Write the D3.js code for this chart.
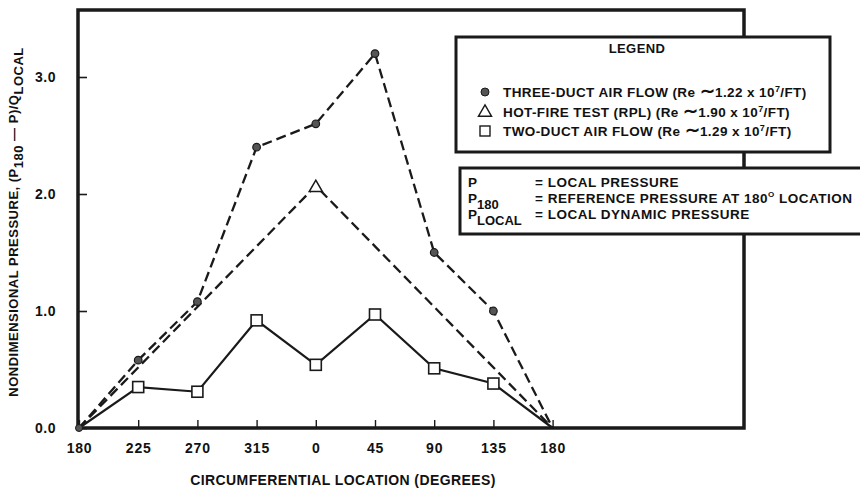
<!DOCTYPE html>
<html><head><meta charset="utf-8">
<script src="https://cdn.jsdelivr.net/npm/d3@7"></script>
<style>
body{margin:0;background:#fff;}
text{font-family:"Liberation Sans",Arial,sans-serif;font-weight:bold;fill:#111;}
</style></head>
<body><svg id="c" width="860" height="488"></svg>
<script>
const xLabels = ["180","225","270","315","0","45","90","135","180"];
const threeDuct = [0.0, 0.58, 1.08, 2.40, 2.60, 3.20, 1.50, 1.00, 0.0];
const twoDuct   = [0.0, 0.35, 0.31, 0.92, 0.54, 0.97, 0.51, 0.38, 0.0];
const hotFireIdx = [0, 4, 8];
const hotFireVal = [0.0, 2.07, 0.0];
const yTicks = [0, 1, 2, 3];
const legendItems = [
  {sym:"circle", name:"THREE-DUCT AIR FLOW (Re ", re:"1.22"},
  {sym:"triangle", name:"HOT-FIRE TEST (RPL) (Re ", re:"1.90"},
  {sym:"square", name:"TWO-DUCT AIR FLOW (Re ", re:"1.29"}
];
const defs = [
  {sym:"P", sub:"", desc:"= LOCAL PRESSURE"},
  {sym:"P", sub:"180", desc:"= REFERENCE PRESSURE AT 180", sup:"O", tail:" LOCATION"},
  {sym:"P", sub:"LOCAL", desc:"= LOCAL DYNAMIC PRESSURE"}
];

const svg = d3.select("#c");
const x = d3.scaleLinear().domain([0, 8]).range([79, 552.6]);
const y = d3.scaleLinear().domain([0, 3]).range([428, 77]);
const ink = "#1a1a1a";

// frame
svg.append("path").attr("d","M78,428 L78,10 L744,10 L744,428 Z")
  .attr("fill","none").attr("stroke",ink).attr("stroke-width",3.5);

// axes
const yAxis = d3.axisLeft(y).tickValues(yTicks).tickFormat(d3.format(".1f")).tickSize(-9).tickPadding(22);
const gy = svg.append("g").attr("transform","translate(78,0)").call(yAxis);
gy.select(".domain").remove();
gy.selectAll("line").attr("stroke",ink).attr("stroke-width",1.6);
gy.selectAll("text").attr("font-size",14).attr("font-family","Liberation Sans, Arial").attr("font-weight","bold").attr("letter-spacing",0.5);

const xAxis = d3.axisBottom(x).tickValues(d3.range(9)).tickFormat(i => xLabels[i]).tickSize(-8).tickPadding(15);
const gx = svg.append("g").attr("transform","translate(0,428)").call(xAxis);
gx.select(".domain").remove();
gx.selectAll("line").attr("stroke",ink).attr("stroke-width",1.4);
gx.selectAll("text").attr("font-size",14).attr("font-family","Liberation Sans, Arial").attr("font-weight","bold").attr("letter-spacing",0.8);

// lines
const line = d3.line().x(d => x(d[0])).y(d => y(d[1]));
const threePts = threeDuct.map((v,i)=>[i,v]);
const twoPts = twoDuct.map((v,i)=>[i,v]);
const hotPts = hotFireIdx.map((i,k)=>[i,hotFireVal[k]]);

svg.append("path").attr("d",line(hotPts)).attr("fill","none").attr("stroke",ink)
  .attr("stroke-width",2.3).attr("stroke-dasharray","10,5");
svg.append("path").attr("d",line(threePts)).attr("fill","none").attr("stroke",ink)
  .attr("stroke-width",2.3).attr("stroke-dasharray","10,5");
svg.append("path").attr("d",line(twoPts)).attr("fill","none").attr("stroke",ink)
  .attr("stroke-width",2.2);

// markers
svg.selectAll(".c3").data(threePts.slice(1,8)).enter().append("circle")
  .attr("cx",d=>x(d[0])).attr("cy",d=>y(d[1])).attr("r",3.8)
  .attr("fill","#555").attr("stroke",ink).attr("stroke-width",1.2);
svg.selectAll(".sq").data(twoPts.slice(1,8)).enter().append("rect")
  .attr("x",d=>x(d[0])-5.5).attr("y",d=>y(d[1])-5.5).attr("width",11).attr("height",11)
  .attr("fill","#fff").attr("stroke",ink).attr("stroke-width",1.6);
const tri = d3.symbol().type(d3.symbolTriangle).size(75);
svg.selectAll(".tr").data(hotPts.slice(1,2)).enter().append("path")
  .attr("d",tri).attr("transform",d=>`translate(${x(d[0])},${y(d[1])+2})`)
  .attr("fill","#fff").attr("stroke",ink).attr("stroke-width",1.5);
svg.append("circle").attr("cx",x(0)).attr("cy",y(0)).attr("r",3.5).attr("fill","#555").attr("stroke",ink);

// legend box
const lg = svg.append("g");
lg.append("rect").attr("x",456).attr("y",37).attr("width",374).attr("height",115)
  .attr("fill","#fff").attr("stroke",ink).attr("stroke-width",3);
lg.append("text").attr("x",637).attr("y",53).attr("text-anchor","middle").attr("font-size",13).attr("letter-spacing",0.4).text("LEGEND");
legendItems.forEach((it,i)=>{
  const yy = 97 + i*19.5;
  if(it.sym==="circle") lg.append("circle").attr("cx",485).attr("cy",yy-5).attr("r",4).attr("fill","#555").attr("stroke",ink);
  if(it.sym==="triangle") lg.append("path").attr("d",d3.symbol().type(d3.symbolTriangle).size(75)).attr("transform",`translate(485,${yy-4})`).attr("fill","none").attr("stroke",ink).attr("stroke-width",1.4);
  if(it.sym==="square") lg.append("rect").attr("x",480).attr("y",yy-10).attr("width",10).attr("height",10).attr("fill","none").attr("stroke",ink).attr("stroke-width",1.4);
  const t = lg.append("text").attr("x",503).attr("y",yy).attr("font-size",13.5).attr("letter-spacing",0.4);
  t.append("tspan").text(it.name);
  t.append("tspan").attr("font-size",18).attr("dy",0).text("∼");
  t.append("tspan").text(it.re + " x 10");
  t.append("tspan").attr("font-size",9).attr("dy",-5).text("7");
  t.append("tspan").attr("dy",5).text("/FT)");
});

// definitions box
const dg = svg.append("g");
dg.append("rect").attr("x",460).attr("y",168).attr("width",420).attr("height",66)
  .attr("fill","#fff").attr("stroke",ink).attr("stroke-width",3);
defs.forEach((d,i)=>{
  const yy = 187 + i*16;
  const t = dg.append("text").attr("x",468).attr("y",yy).attr("font-size",13.5);
  t.append("tspan").text(d.sym);
  if(d.sub) t.append("tspan").attr("dy",6).attr("font-size",13).text(d.sub);
  const t2 = dg.append("text").attr("x",535).attr("y",yy).attr("font-size",13.5).attr("letter-spacing",0.5);
  t2.append("tspan").text(d.desc);
  if(d.sup){ t2.append("tspan").attr("font-size",8).attr("dy",-6).text(d.sup); t2.append("tspan").attr("dy",6).text(d.tail); }
});

// axis titles
svg.append("text").attr("x",343).attr("y",485).attr("text-anchor","middle").attr("font-size",14).attr("letter-spacing",0.4).text("CIRCUMFERENTIAL LOCATION (DEGREES)");
const yt = svg.append("text").attr("transform","translate(18,222) rotate(-90)").attr("text-anchor","middle").attr("font-size",13).attr("letter-spacing",0.5);
yt.append("tspan").text("NONDIMENSIONAL PRESSURE, (P");
yt.append("tspan").attr("dy",5).text("180");
yt.append("tspan").attr("dy",-5).text(" \u2014 P)/Q");
yt.append("tspan").attr("dy",5).text("LOCAL");
</script></body></html>
